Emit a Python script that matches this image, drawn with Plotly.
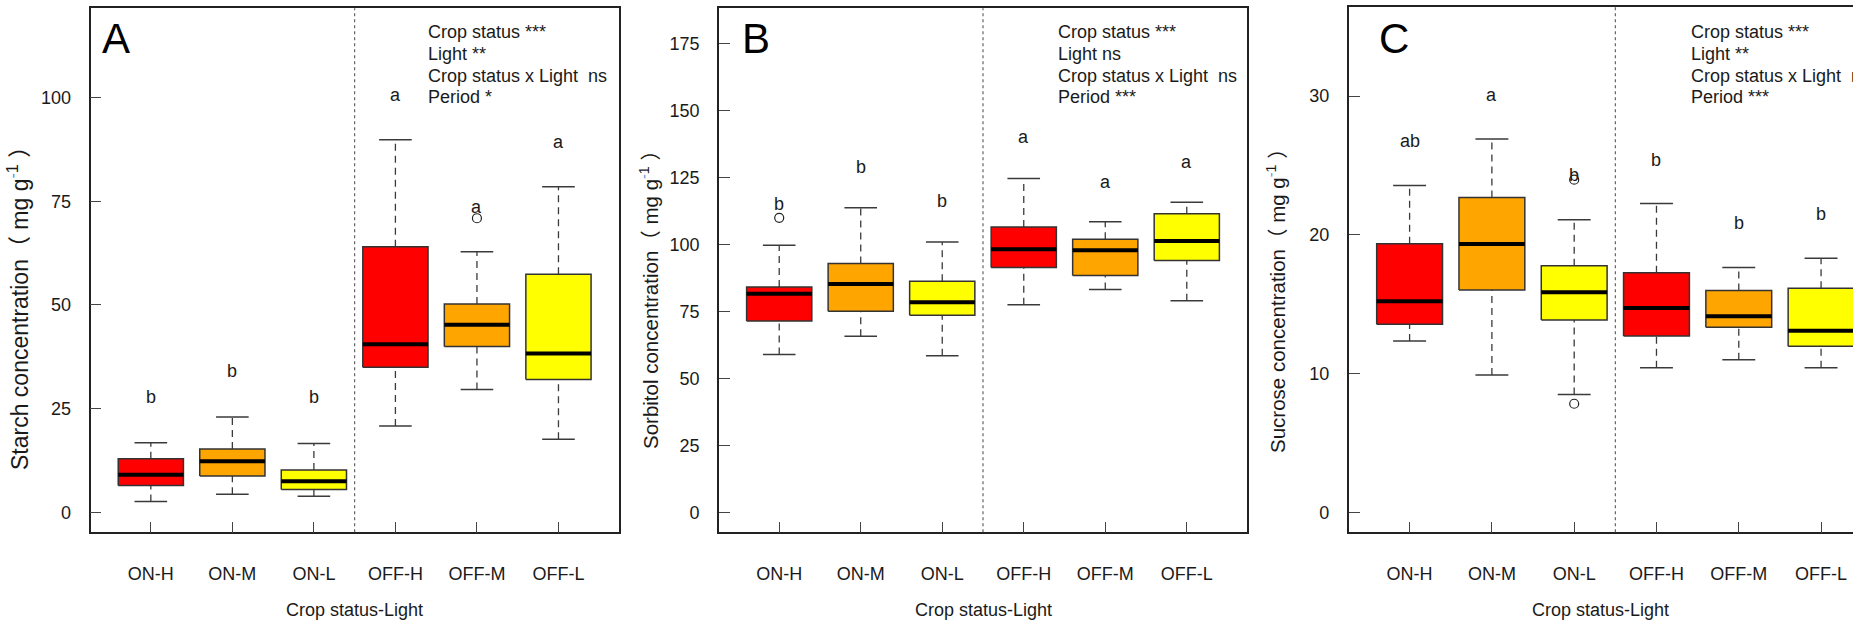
import plotly.graph_objects as go

W, H = 1853, 624

groups = ["ON-H", "ON-M", "ON-L", "OFF-H", "OFF-M", "OFF-L"]
fills = ["#FF0000", "#FFA500", "#FFFF00", "#FF0000", "#FFA500", "#FFFF00"]

# Starch (mg g-1): whisker ends, quartiles, median
starch_low = [2.6, 4.4, 3.9, 20.8, 29.6, 17.6]
starch_q1 = [6.5, 8.75, 5.5, 35.0, 40.0, 32.0]
starch_med = [9.1, 12.3, 7.5, 40.5, 45.2, 38.3]
starch_q3 = [12.9, 15.3, 10.2, 64.0, 50.2, 57.4]
starch_high = [16.8, 23.0, 16.6, 89.8, 62.8, 78.5]
starch_out_x = [5]
starch_out_y = [70.9]
starch_letters = ["b", "b", "b", "a", "a", "a"]
starch_letter_y = [27.7, 34.1, 27.7, 100.6, 73.7, 89.3]
starch_stats = ["Crop status ***", "Light **", "Crop status x Light  ns", "Period *"]

# Sorbitol (mg g-1)
sorbitol_low = [58.9, 65.7, 58.4, 77.5, 83.2, 79.0]
sorbitol_q1 = [71.4, 75.0, 73.5, 91.4, 88.4, 94.0]
sorbitol_med = [81.6, 85.2, 78.4, 98.2, 97.8, 101.3]
sorbitol_q3 = [84.1, 92.9, 86.2, 106.5, 101.9, 111.4]
sorbitol_high = [99.7, 113.7, 100.9, 124.6, 108.4, 115.7]
sorbitol_out_x = [1]
sorbitol_out_y = [109.9]
sorbitol_letters = ["b", "b", "b", "a", "a", "a"]
sorbitol_letter_y = [115.0, 129.0, 116.2, 139.9, 123.4, 130.6]
sorbitol_stats = ["Crop status ***", "Light ns", "Crop status x Light  ns", "Period ***"]

# Sucrose (mg g-1)
sucrose_low = [12.36, 9.91, 8.51, 10.43, 11.01, 10.43]
sucrose_q1 = [13.56, 16.04, 13.87, 12.72, 13.35, 11.98]
sucrose_med = [15.22, 19.34, 15.87, 14.74, 14.14, 13.10]
sucrose_q3 = [19.36, 22.70, 17.79, 17.27, 15.99, 16.16]
sucrose_high = [23.57, 26.91, 21.09, 22.27, 17.65, 18.33]
sucrose_out_x = [3, 3]
sucrose_out_y = [7.84, 23.98]
sucrose_letters = ["ab", "a", "b", "b", "b", "b"]
sucrose_letter_y = [26.74, 30.06, 24.29, 25.42, 20.85, 21.5]
sucrose_stats = ["Crop status ***", "Light **", "Crop status x Light  ns", "Period ***"]

panel_tags = ["A", "B", "C"]
y_titles = ["Starch concentration", "Sorbitol concentration", "Sucrose concentration"]
x_title = "Crop status-Light"

FONT = "Liberation Sans, Arial, sans-serif"
TXT = "#1a1a1a"
FS = 18

def px_x(p):
    return p / W

def px_y(p):
    return 1 - p / H

# panel frames in pixels: left, right, top, bottom
frames = [(90.5, 618.8, 8.3, 532.3), (718.9, 1247.1, 8.3, 532.3), (1348.7, W, 7.3, 532.3)]
full_right_c = 1348.7 + 528.3
y_ranges = [[-4.8, 121.5], [-7.46, 188.1], [-1.42, 36.4]]
x_ranges = [[0.26, 6.74], [0.26, 6.74], [0.26, 6.388]]
y_ticks = [[0, 25, 50, 75, 100], [0, 25, 50, 75, 100, 125, 150, 175], [0, 10, 20, 30]]
stat_x = [426.3, 1055.7, 1688.8]
tag_x = [116.3, 755.5, 1394.0]
ytitle_x = [18.0, 649.0, 1276.0]
ytitle_y = [303.0, 295.0, 296.0]
ytitle_size = [23, 20.5, 20.5]

panels = [
    (starch_low, starch_q1, starch_med, starch_q3, starch_high, starch_out_x, starch_out_y,
     starch_letters, starch_letter_y, starch_stats),
    (sorbitol_low, sorbitol_q1, sorbitol_med, sorbitol_q3, sorbitol_high, sorbitol_out_x,
     sorbitol_out_y, sorbitol_letters, sorbitol_letter_y, sorbitol_stats),
    (sucrose_low, sucrose_q1, sucrose_med, sucrose_q3, sucrose_high, sucrose_out_x,
     sucrose_out_y, sucrose_letters, sucrose_letter_y, sucrose_stats),
]

fig = go.Figure()
annotations = []
shapes = []
BOX_HALF = 0.4
CAP_HALF = 0.2

for k, (low, q1, med, q3, high, ox, oy, letters, ly, stats) in enumerate(panels):
    xa = "x" if k == 0 else f"x{k + 1}"
    ya = "y" if k == 0 else f"y{k + 1}"
    pos = list(range(1, len(groups) + 1))

    # dashed whiskers
    wx, wy = [], []
    for i, p in enumerate(pos):
        wx += [p, p, None, p, p, None]
        wy += [low[i], q1[i], None, q3[i], high[i], None]
    fig.add_trace(go.Scatter(x=wx, y=wy, xaxis=xa, yaxis=ya, mode="lines",
                             line=dict(color="#3a3a3a", width=1.3, dash="7px,5px"),
                             hoverinfo="skip", showlegend=False))
    # whisker caps
    cx, cy = [], []
    for i, p in enumerate(pos):
        cx += [p - CAP_HALF, p + CAP_HALF, None, p - CAP_HALF, p + CAP_HALF, None]
        cy += [low[i], low[i], None, high[i], high[i], None]
    fig.add_trace(go.Scatter(x=cx, y=cy, xaxis=xa, yaxis=ya, mode="lines",
                             line=dict(color="#3a3a3a", width=1.5),
                             hoverinfo="skip", showlegend=False))
    # boxes
    for i, p in enumerate(pos):
        fig.add_trace(go.Scatter(
            x=[p - BOX_HALF, p + BOX_HALF, p + BOX_HALF, p - BOX_HALF, p - BOX_HALF],
            y=[q1[i], q1[i], q3[i], q3[i], q1[i]],
            xaxis=xa, yaxis=ya, mode="lines", fill="toself", fillcolor=fills[i],
            line=dict(color="#333333", width=1.5), hoverinfo="skip", showlegend=False))
    # medians
    mx, my = [], []
    for i, p in enumerate(pos):
        mx += [p - BOX_HALF, p + BOX_HALF, None]
        my += [med[i], med[i], None]
    fig.add_trace(go.Scatter(x=mx, y=my, xaxis=xa, yaxis=ya, mode="lines",
                             line=dict(color="#000000", width=4),
                             hoverinfo="skip", showlegend=False))
    # outliers
    fig.add_trace(go.Scatter(x=ox, y=oy, xaxis=xa, yaxis=ya, mode="markers",
                             marker=dict(symbol="circle-open", size=9, color="#222222",
                                         line=dict(color="#222222", width=1.2)),
                             hoverinfo="skip", showlegend=False))
    # significance letters
    for i, p in enumerate(pos):
        annotations.append(dict(x=p, y=ly[i], xref=xa, yref=ya, text=letters[i],
                                showarrow=False, font=dict(size=FS, color=TXT, family=FONT)))
    # group separator
    shapes.append(dict(type="line", xref=xa, yref=f"{ya} domain", x0=3.5, x1=3.5, y0=0, y1=1,
                       line=dict(color="#555555", width=1.1, dash="dot")))
    # ANOVA summary
    for j, s in enumerate(stats):
        annotations.append(dict(x=px_x(stat_x[k]), y=px_y(31.7 + 21.9 * j), xref="paper",
                                yref="paper", text=s, showarrow=False, xanchor="left",
                                yanchor="middle",
                                font=dict(size=FS, color=TXT, family=FONT)))
    # panel tag
    annotations.append(dict(x=px_x(tag_x[k]), y=px_y(38.5), xref="paper", yref="paper",
                            text=panel_tags[k], showarrow=False, xanchor="center",
                            yanchor="middle", font=dict(size=42, color="#000000", family=FONT)))
    # axis titles
    left, right, top, bottom = frames[k]
    annotations.append(dict(x=px_x((left + min(right, full_right_c)) / 2), y=px_y(610),
                            xref="paper", yref="paper", text=x_title, showarrow=False,
                            xanchor="center", yanchor="middle",
                            font=dict(size=FS, color=TXT, family=FONT)))
    annotations.append(dict(
        x=px_x(ytitle_x[k]), y=px_y(ytitle_y[k]), xref="paper", yref="paper",
        text=(y_titles[k] + "<span style='font-family:Noto Sans CJK SC'>（</span> mg g"
              "<sup><span style='color:#5b8fd6'>-</span>1</sup> "
              "<span style='font-family:Noto Sans CJK SC'>）</span>"),
        showarrow=False, textangle=-90, xanchor="center", yanchor="middle",
        font=dict(size=ytitle_size[k], color=TXT, family=FONT)))

    axis_common = dict(showgrid=False, zeroline=False, showline=True, linecolor="#222222",
                       linewidth=1.6, ticks="inside", ticklen=11, tickwidth=1.3,
                       tickcolor="#444444", tickfont=dict(size=FS, color=TXT, family=FONT))
    mirror = k < 2
    fig.update_layout(**{
        ("xaxis" if k == 0 else f"xaxis{k + 1}"): dict(
            axis_common, domain=[px_x(left), px_x(right)], range=x_ranges[k],
            tickvals=pos, ticktext=groups, mirror=True, anchor=ya, ticklabelstandoff=24,
            fixedrange=True),
        ("yaxis" if k == 0 else f"yaxis{k + 1}"): dict(
            axis_common, domain=[px_y(bottom), px_y(top)], range=y_ranges[k],
            tickvals=y_ticks[k], mirror=mirror, anchor=xa, ticklabelstandoff=14,
            fixedrange=True),
    })

fig.update_layout(width=W, height=H, margin=dict(l=0, r=0, t=0, b=0),
                  paper_bgcolor="white", plot_bgcolor="white",
                  annotations=annotations, shapes=shapes, showlegend=False)

fig.write_html("out.html")
